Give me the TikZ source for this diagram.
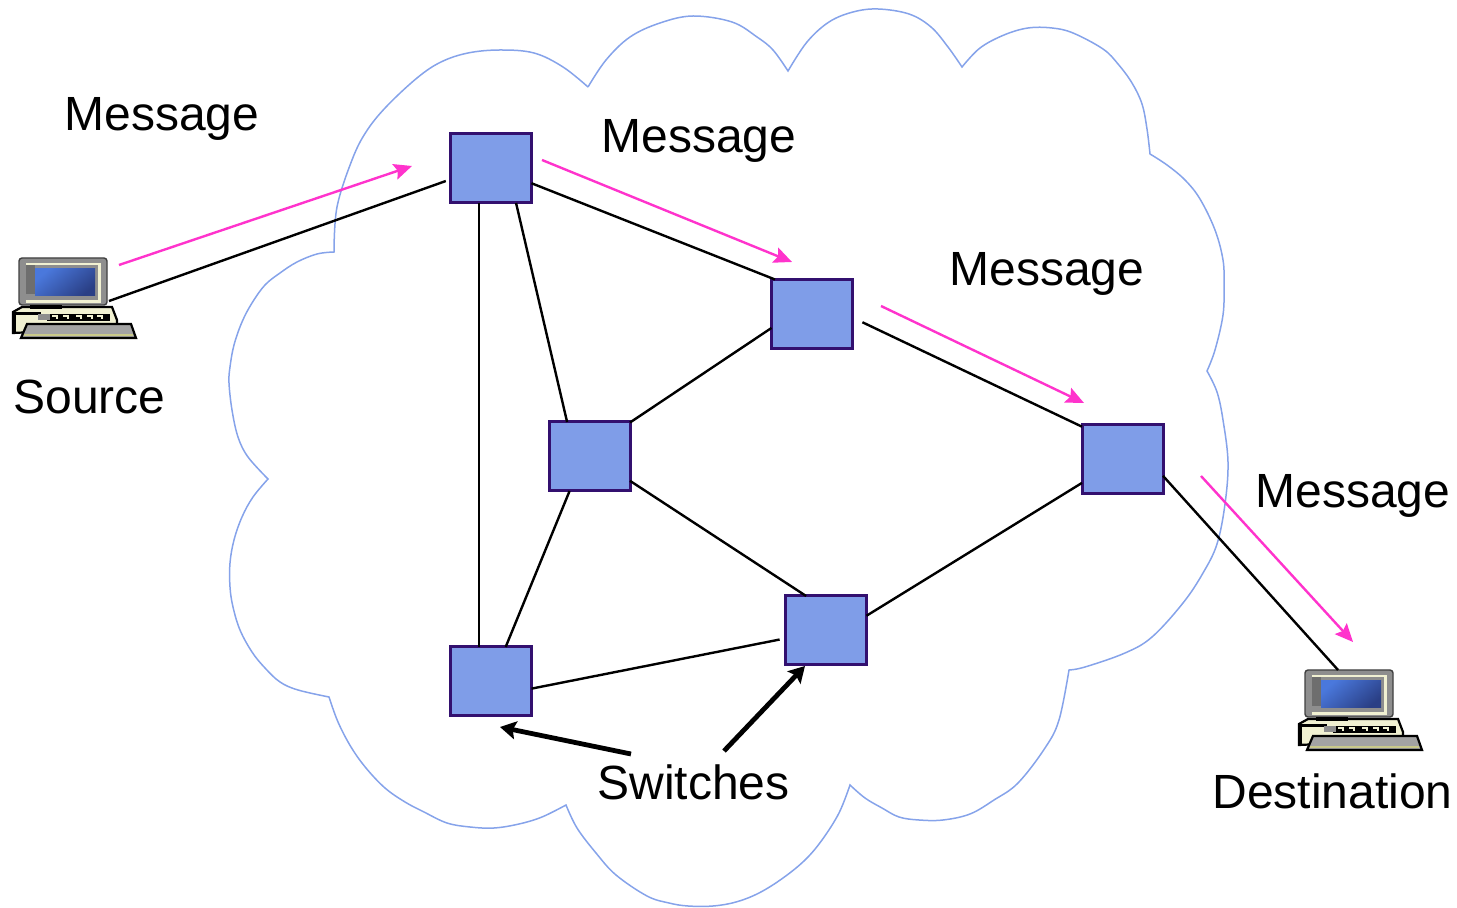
\documentclass[tikz,border=0pt]{standalone}
\usepackage{fontspec}
\setmainfont{Liberation Sans}
\usetikzlibrary{arrows.meta}

\definecolor{cloudblue}{HTML}{86A3EA}
\definecolor{switchblue}{HTML}{7F9DE8}
\definecolor{switchedge}{HTML}{33106F}
\definecolor{msgpink}{HTML}{FF33CC}
\definecolor{pcgray}{HTML}{8E8E8E}
\definecolor{pcdark}{HTML}{6E6E6E}
\definecolor{pccream}{HTML}{F1F1D2}
\definecolor{pckeys}{HTML}{A3A3A3}
\definecolor{pcolive}{HTML}{C9C98A}
\definecolor{screena}{HTML}{4A78DC}
\definecolor{screenb}{HTML}{5F90F5}
\definecolor{screenc}{HTML}{2A3F85}

\tikzset{
    switch/.style={draw=switchedge, fill=switchblue, line width=1.5pt, minimum width=40.5pt, minimum height=34.5pt, outer sep=0pt, inner sep=0pt},
    host/.style={draw=none, fill=none, minimum width=46pt, minimum height=23.5pt, outer sep=0pt, inner sep=0pt},
    link/.style={line width=1.2pt, black},
    msgarrow/.style={line width=1.2pt, msgpink, -{Stealth[length=9pt,width=8pt,inset=1.5pt]}},
    callout/.style={line width=2.4pt, black, -{Stealth[length=8pt,width=9pt,inset=1.5pt]}},
    label/.style={anchor=base west, inner sep=0pt, font=\fontsize{24}{28}\selectfont},
    pics/computer/.style={code={
        % monitor
        \filldraw[draw=black!75, fill=pcgray, line width=0.7pt, rounded corners=1.5pt] (0,0) rectangle (88,47);
        \fill[pccream] (7,5) rectangle (82,45);
        \fill[pcgray] (7,7) rectangle (79,42);
        \fill[pcdark] (7,7) rectangle (16,36);
        \shade[top color=screena, middle color=screenb, bottom color=screenc, shading angle=40] (16,11) rectangle (76,38);
        % case
        \draw[line width=1.1pt, fill=pccream] (-6,54) -- (3,49) -- (93,49) -- (98,62) -- (98,70) -- (-6,75) -- cycle;
        \fill[black] (11,47) rectangle (43,51);
        \fill[black] (-6,54) rectangle (22,57);
        \fill[black] (-6,57) rectangle (-3,75);
        \fill[black] (28,56) rectangle (91,63);
        \fill[pcgray] (19,56) rectangle (31,62);
        \foreach \k in {33,44,57,68,78} {
            \draw[pccream, line width=0.6pt] (\k,58) -- (\k+5,58) -- (\k+5,61);
        }
        % keyboard
        \draw[line width=1.1pt, fill=pckeys] (8,66) -- (112,66) -- (117,80) -- (2,80) -- cycle;
        \draw[line width=1.1pt, pcolive] (5,77) -- (114,77);
    }}
}

\begin{document}
\begin{tikzpicture}[x=0.5pt, y=-0.5pt]
    \useasboundingbox (0,0) rectangle (1457,908);
    % cloud
    \draw[cloudblue, line width=0.75pt, line join=miter]
        plot[smooth, tension=0.6] coordinates {(588,87) (606,60) (630,37) (660,23) (693,16) (732,22) (757,37) (773,50) (788,71)}
        -- plot[smooth, tension=0.6] coordinates {(788,71) (807,42) (829,22) (853,12) (878,9) (909,14) (931,27) (948,47) (962,67)}
        -- plot[smooth, tension=0.6] coordinates {(962,67) (980,48) (1004,35) (1028,28) (1052,28) (1073,33) (1103,49) (1118,64) (1132,83) (1142,104) (1147,129) (1150,154)}
        -- plot[smooth, tension=0.6] coordinates {(1150,154) (1167,165) (1185,180) (1200,199) (1215,230) (1223,260) (1224,285) (1223,315) (1215,350) (1207,371)}
        -- plot[smooth, tension=0.6] coordinates {(1207,371) (1217,392) (1223,420) (1228,462) (1225,504) (1217,544) (1203,573) (1183,603) (1152,637) (1125,653) (1085,667) (1069,670)}
        -- plot[smooth, tension=0.6] coordinates {(1069,670) (1059,720) (1045,748) (1018,783) (994,800) (970,814) (943,820) (919,820) (899,817) (882,808) (865,798) (850,785)}
        -- plot[smooth, tension=0.6] coordinates {(850,785) (839,813) (822,840) (805,860) (783,878) (759,893) (736,902) (713,906) (688,906) (669,903) (647,896) (616,875) (596,853) (577,828) (566,805)}
        -- plot[smooth, tension=0.6] coordinates {(566,805) (542,817) (519,824) (494,828) (470,827) (447,823) (424,812) (405,802) (385,788) (366,768) (351,747) (338,722) (329,697)}
        -- plot[smooth, tension=0.6] coordinates {(329,697) (298,690) (280,682) (265,668) (252,652) (240,630) (233,607) (230,587) (230,563) (234,540) (242,517) (253,497) (268,479)}
        -- plot[smooth, tension=0.6] coordinates {(268,479) (248,457) (238,437) (232,410) (229,383) (230,367) (234,345) (242,322) (252,303) (265,285) (280,273) (297,262) (317,254) (334,252)}
        -- plot[smooth, tension=0.6] coordinates {(334,252) (337,207) (352,160) (366,132) (386,107) (417,78) (441,62) (468,53) (500,50) (534,53) (563,67) (588,87)};

    % switches
    \node[switch] (sw1) at (491,168.5) {};
    \node[switch] (sw2) at (812,314) {};
    \node[switch] (sw3) at (589.5,456.5) {};
    \node[switch] (sw4) at (1122.5,459.5) {};
    \node[switch] (sw5) at (826,630.5) {};
    \node[switch] (sw6) at (491,681.5) {};

    % hosts
    \node[host] (source) at (63,281.5) {};
    \node[host] (dest) at (1349,693.5) {};
    \pic at (19,258) {computer};
    \pic at (1305,670) {computer};

    % links
    \draw[link, shorten >=2.5pt] (source.-23) -- (sw1.195);
    \draw[link] (sw1.-20) -- (sw2.137);
    \draw[link] (sw1.-54) -- (sw3.123);
    \draw[link] (sw1.-109) -- (sw6.109);
    \draw[link] (sw2.199) -- (sw3.40);
    \draw[link, shorten <=5.5pt] (sw2.-5) -- (sw4.141);
    \draw[link] (sw3.-31) -- (sw5.120);
    \draw[link] (sw3.-120) -- (sw6.67);
    \draw[link, shorten >=3pt] (sw6.-10) -- (sw5.191);
    \draw[link] (sw5.20) -- (sw4.210);
    \draw[link] (sw4.-22) -- (dest.115);

    % message arrows
    \coordinate (m1a) at (119,265);
    \coordinate (m1b) at (412,166);
    \coordinate (m2a) at (542,160);
    \coordinate (m2b) at (792,262);
    \coordinate (m3a) at (881,306);
    \coordinate (m3b) at (1084,403);
    \coordinate (m4a) at (1201,476);
    \coordinate (m4b) at (1353,642);
    \foreach \i in {1, ..., 4} {
        \draw[msgarrow] (m\i a) -- (m\i b);
    }

    % labels
    \node[label] (msg1) at (64,130.5) {Message};
    \node[label] (msg2) at (601,152.5) {Message};
    \node[label] (msg3) at (949,285.5) {Message};
    \node[label] (msg4) at (1255,507.5) {Message};
    \node[label] (srclabel) at (13,414) {Source};
    \node[label] (dstlabel) at (1212,808) {Destination};
    \node[label] (swlabel) at (597,799) {Switches};

    % switch callouts
    \coordinate (c1) at (631,754);
    \coordinate (c2) at (724,751);
    \draw[callout] (c1) -- ([xshift=4.5pt,yshift=-5.5pt]sw6.south);
    \draw[callout] (c2) -- ([xshift=-10.5pt,yshift=-0.5pt]sw5.south);
\end{tikzpicture}
\end{document}
